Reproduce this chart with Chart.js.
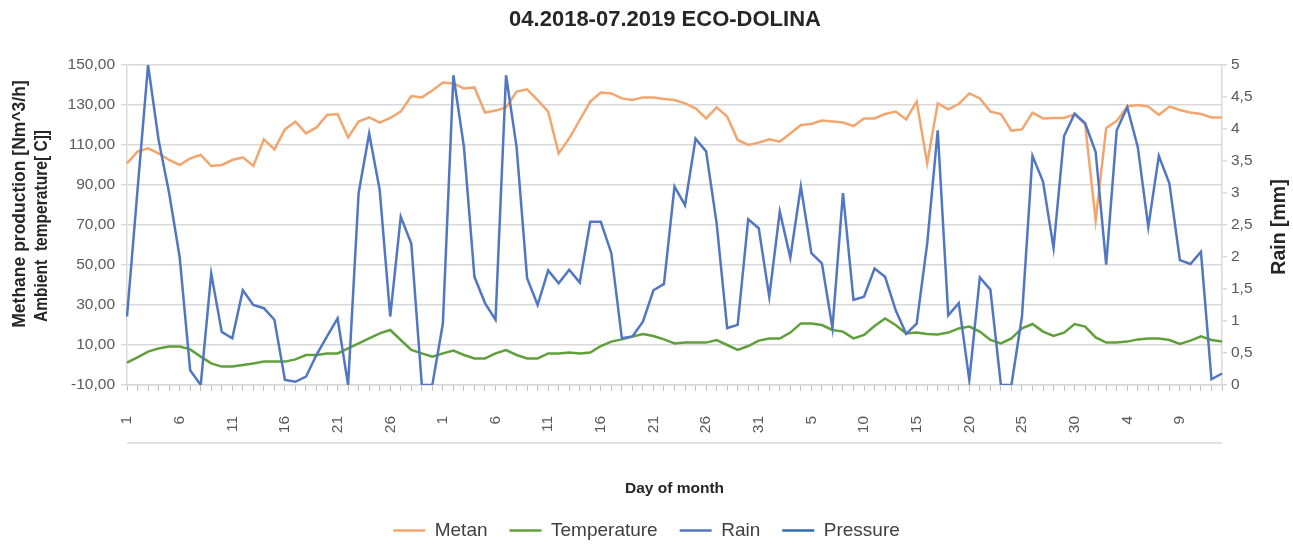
<!DOCTYPE html>
<html>
<head>
<meta charset="utf-8">
<script src="https://cdn.jsdelivr.net/npm/chart.js@4.4.1/dist/chart.umd.min.js"></script>
<style>
  html, body { margin: 0; padding: 0; background: #fff; }
  #wrap { width: 1293px; height: 547px; position: relative; }
</style>
</head>
<body>
<div id="wrap"><canvas id="chart"></canvas></div>
<script>
// day of month for each point (4 months back to back)
const dayLabels = [
  "1","2","3","4","5","6","7","8","9","10","11","12","13","14","15","16","17","18","19","20","21","22","23","24","25","26","27","28","29","30",
  "1","2","3","4","5","6","7","8","9","10","11","12","13","14","15","16","17","18","19","20","21","22","23","24","25","26","27","28","29","30","31",
  "1","2","3","4","5","6","7","8","9","10","11","12","13","14","15","16","17","18","19","20","21","22","23","24","25","26","27","28","29","30","31",
  "1","2","3","4","5","6","7","8","9","10","11","12","13"
];

const metan = [
  100.8, 106.7, 108.3, 105.8, 102.5, 100, 103.3, 105, 99.5, 100,
  102.5, 103.8, 99.5, 112.8, 107.8, 117.8, 121.7, 115.8, 118.8, 125,
  125.5, 113.8, 121.7, 123.8, 121.2, 123.5, 126.7, 134.5, 133.8, 137.2,
  141.2, 140.8, 138.3, 138.8, 126.2, 127.2, 128.8, 136.7, 137.8, 132.5,
  126.7, 105.8, 113.3, 122.5, 131.7, 136.2, 135.8, 133.3, 132.5, 133.8,
  133.8, 133, 132.5, 130.8, 128.3, 123.3, 128.8, 124.2, 112.5, 110,
  111.2, 112.8, 111.7, 115.8, 120, 120.5, 122.2, 121.7, 121.2, 119.5,
  123.3, 123.3, 125.5, 126.7, 122.8, 131.7, 100.8, 130.8, 127.8, 130.5,
  135.8, 133.3, 126.7, 125.5, 117.2, 117.8, 126.2, 123.3, 123.5, 123.5,
  125.3, 120.5, 72.3, 118.5, 122, 129.2, 130, 129.2, 125, 129.2,
  127.5, 126.2, 125.5, 123.8, 123.8
];

const temperature = [
  1.2, 3.8, 6.7, 8.3, 9.2, 9.2, 7.8, 4.2, 0.8, -0.8,
  -0.8, 0, 0.8, 1.7, 1.7, 1.7, 2.8, 5, 5, 5.8,
  5.8, 8.3, 10.8, 13.3, 15.8, 17.5, 12.5, 7.5, 5.8, 4.2,
  5.8, 7.2, 5, 3.3, 3.3, 5.8, 7.5, 5, 3.3, 3.3,
  5.8, 5.8, 6.2, 5.8, 6.2, 9.5, 11.7, 12.8, 14.2, 15.5,
  14.5, 12.8, 10.8, 11.2, 11.2, 11.2, 12.5, 10, 7.5, 9.5,
  12.2, 13.2, 13.2, 16.2, 20.8, 20.8, 20, 17.5, 16.7, 13.3,
  15, 19.5, 23.3, 20, 15.8, 16.2, 15.5, 15.2, 16.2, 18.3,
  19.2, 16.7, 12.5, 10.8, 13.3, 18.3, 20.5, 16.7, 14.5, 16.2,
  20.5, 19.2, 13.8, 11.2, 11.2, 11.7, 12.8, 13.3, 13.3, 12.5,
  10.5, 12.2, 14.3, 12.5, 11.7
];

const rain = [
  1.07, 3.05, 5.0, 3.83, 3.0, 2.0, 0.23, 0, 1.74, 0.83,
  0.73, 1.48, 1.25, 1.2, 1.02, 0.08, 0.05, 0.13, 0.47, 0.76,
  1.04, 0, 3.0, 3.93, 3.05, 1.07, 2.63, 2.21, 0, 0,
  0.96, 4.84, 3.72, 1.69, 1.28, 1.02, 4.84, 3.72, 1.67, 1.25,
  1.79, 1.59, 1.8, 1.6, 2.55, 2.55, 2.06, 0.73, 0.76, 0.99,
  1.48, 1.58, 3.1, 2.81, 3.85, 3.65, 2.53, 0.89, 0.94, 2.59,
  2.45, 1.38, 2.71, 1.99, 3.1, 2.06, 1.9, 0.89, 3.0, 1.33,
  1.38, 1.82, 1.69, 1.17, 0.8, 0.96, 2.21, 3.98, 1.09, 1.28,
  0.08, 1.68, 1.49, 0, 0, 1.07, 3.58, 3.18, 2.14, 3.89,
  4.24, 4.09, 3.64, 1.88, 3.98, 4.34, 3.72, 2.47, 3.58, 3.15,
  1.95, 1.89, 2.08, 0.09, 0.18
];

// no visible pressure line in the source picture, legend entry only
const pressure = [];

const CHART_TITLE = "04.2018-07.2019 ECO-DOLINA";
const LEFT_TITLE = ["Methane production [Nm^3/h]", "Ambient  temperature[ C]]"];
const RIGHT_TITLE = "Rain [mm]";
const X_TITLE = "Day of month";

const FONT = "'Liberation Sans', Arial, sans-serif";

// titles drawn by hand (the two left lines are not centred on each other in the original)
const extras = {
  id: 'extras',
  afterDraw(chart) {
    const ctx = chart.ctx;
    const xs = chart.scales.x;
    const area = chart.chartArea;
    const midY = (area.top + area.bottom) / 2;
    ctx.save();
    ctx.strokeStyle = '#d9d9d9';
    ctx.lineWidth = 1.5;
    ctx.beginPath();
    ctx.moveTo(xs.left, area.bottom + 58);
    ctx.lineTo(xs.right, area.bottom + 58);
    ctx.stroke();

    ctx.fillStyle = '#262626';
    ctx.textAlign = 'center';
    ctx.textBaseline = 'middle';
    ctx.font = "bold 22px " + FONT;
    ctx.fillText(CHART_TITLE, 665, 20);

    ctx.save();
    ctx.translate(1280, midY + 2);
    ctx.rotate(-Math.PI / 2);
    ctx.font = "bold 19.5px " + FONT;
    ctx.fillText(RIGHT_TITLE, 0, 0);
    ctx.restore();

    ctx.save();
    ctx.font = "bold 17.5px " + FONT;
    ctx.translate(20, midY - 21);
    ctx.rotate(-Math.PI / 2);
    ctx.fillText(LEFT_TITLE[0], 0, 0);
    ctx.restore();

    ctx.save();
    ctx.font = "bold 17.5px " + FONT;
    ctx.translate(42, midY + 1);
    ctx.rotate(-Math.PI / 2);
    ctx.fillText(LEFT_TITLE[1], 0, 0, 192);
    ctx.restore();

    ctx.restore();
  }
};

const lineStyle = { borderWidth: 2.5, pointRadius: 0, tension: 0, fill: false };

new Chart(document.getElementById("chart"), {
  type: "line",
  data: {
    labels: dayLabels,
    datasets: [
      { label: "Metan", data: metan, borderColor: "#F2A66E", backgroundColor: "#F2A66E", yAxisID: "y", order: 3, ...lineStyle },
      { label: "Temperature", data: temperature, borderColor: "#5FA03A", backgroundColor: "#5FA03A", yAxisID: "y", order: 2, ...lineStyle },
      { label: "Rain", data: rain, borderColor: "#5176C2", backgroundColor: "#5176C2", yAxisID: "y1", order: 1, ...lineStyle },
      { label: "Pressure", data: pressure, borderColor: "#2E6DB4", backgroundColor: "#2E6DB4", yAxisID: "y1", order: 0, ...lineStyle }
    ]
  },
  options: {
    responsive: true,
    maintainAspectRatio: false,
    animation: false,
    events: [],
    layout: { padding: { left: 0, right: 0, top: 65, bottom: -3 } },
    plugins: {
      title: { display: false },
      tooltip: { enabled: false },
      legend: {
        position: 'bottom',
        labels: {
          boxWidth: 32,
          boxHeight: 0,
          padding: 22,
          color: '#404040',
          font: { family: FONT, size: 19 },
          sort: (a, b) => a.datasetIndex - b.datasetIndex
        }
      }
    },
    scales: {
      x: {
        offset: false,
        grid: { drawOnChartArea: false, drawTicks: true, tickLength: 6, color: '#bfbfbf' },
        border: { color: '#d9d9d9', width: 1.5 },
        ticks: {
          autoSkip: false,
          minRotation: 90,
          maxRotation: 90,
          padding: 25,
          color: '#595959',
          font: { family: FONT, size: 15.5 },
          callback: (v, i) => (i % 5 === 0 ? dayLabels[i] : '')
        },
        title: {
          display: true,
          text: X_TITLE,
          color: '#262626',
          font: { family: FONT, size: 15.5, weight: 'bold' },
          padding: { top: 0, bottom: 1 }
        },
        afterFit: s => { s.height = 114; }
      },
      y: {
        position: 'left',
        min: -10,
        max: 150,
        ticks: {
          stepSize: 20,
          padding: 6,
          color: '#595959',
          font: { family: FONT, size: 15.5 },
          callback: v => v.toFixed(2).replace('.', ',')
        },
        grid: { color: '#d9d9d9', lineWidth: 1.5, tickLength: 6 },
        border: { color: '#d9d9d9', width: 1.5 },
        afterFit: s => { s.width = 127; }
      },
      y1: {
        position: 'right',
        min: 0,
        max: 5,
        ticks: {
          stepSize: 0.5,
          padding: 4,
          color: '#595959',
          font: { family: FONT, size: 15.5 },
          callback: v => String(v).replace('.', ',')
        },
        grid: { drawOnChartArea: false, tickLength: 5, color: '#d9d9d9', lineWidth: 1.5 },
        border: { color: '#d9d9d9', width: 1.5 },
        afterFit: s => { s.width = 71; }
      }
    }
  },
  plugins: [extras]
});
</script>
</body>
</html>
